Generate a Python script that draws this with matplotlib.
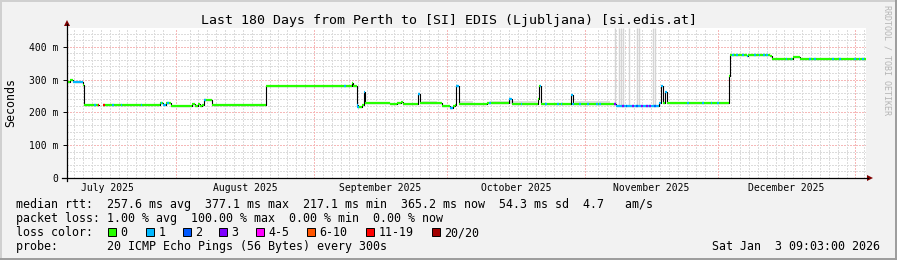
import datetime as dt
import numpy as np
import matplotlib
matplotlib.use('Agg')
import matplotlib.pyplot as plt
from matplotlib.lines import Line2D
from matplotlib.patches import Polygon, Rectangle

plt.rcParams['font.family'] = ['DejaVu Sans Mono']

W, H = 897, 260
start = dt.datetime(2025, 7, 7, 9, 3)
span_days = 180

# median rtt as steps: day since start, ms, loss class
med_day = [0.0, 0.7, 1.4, 3.6, 3.9, 7.3, 8.2, 21.0, 21.6, 22.3, 23.0, 23.4, 28.2, 28.8,
           29.5, 30.0, 30.4, 30.9, 32.6, 44.8, 64.2, 64.5, 65.3, 65.6, 66.5, 67.0, 67.2,
           72.8, 74.3, 75.2, 75.7, 79.1, 79.5, 84.4, 86.3, 87.0, 87.4, 87.6, 88.2, 94.6,
           99.6, 100.2, 106.1, 106.4, 106.8, 113.5, 114.0, 123.2, 123.7, 133.4, 133.8,
           134.3, 134.7, 135.2, 149.2, 149.4, 153.2, 153.4, 158.4, 158.8, 163.6, 165.1]
med_ms = [292, 299, 292, 283, 222, np.nan, 222, 229, 223, 227, 229, 219, 224, 219,
          225, 220, 223, 237, 222, 280, 289, 281, 221, 216, 222, 262, 228,
          226, 228, 232, 225, 255, 228, 220, 214, 220, 222, 279, 226, 229,
          242, 226, 240, 280, 226, 254, 226, 224, 219, 228, 280,
          228, 262, 228, 312, 376, 372, 376, 371, 364, 368, 364]
med_cls = [0, 0, 1, 0, 0, 0, 0, 0, 1, 0, 0, 0, 0, 0,
           0, 0, 0, 0, 0, 0, 0, 0, 1, 0, 0, 1, 0,
           0, 0, 0, 0, 1, 0, 0, 1, 0, 0, 1, 0, 0,
           1, 0, 0, 0, 0, 1, 0, 3, 1, 1, 1,
           0, 1, 0, 0, 0, 1, 0, 0, 0, 0, 0]

# short loss-colour specks on the median line
speck_day = [6.3, 7.1, 8.3, 10.4, 12.3, 16.8, 21.3, 22.8, 31.1, 62.6, 65.6, 79.3, 86.5,
             87.8, 95.3, 99.8, 102.4, 106.7, 107.9, 110.6, 111.4, 114.0, 115.6, 117.4,
             119.4, 120.1, 123.5, 125.3, 126.0, 127.5, 128.4, 129.5, 130.7, 131.3,
             132.5, 139.9, 143.3, 145.2, 146.6, 150.0, 151.0, 152.3, 155.0, 156.0,
             157.0, 157.7, 162.1, 163.2, 167.4, 168.5, 172.6, 174.1, 177.5, 178.5, 179.3]
speck_cls = [1, 6, 6, 1, 1, 1, 1, 1, 1, 1, 1, 1, 1,
             1, 1, 1, 1, 1, 1, 1, 1, 1, 1, 1,
             1, 1, 3, 3, 2, 3, 2, 3, 3, 3,
             2, 1, 1, 1, 1, 1, 1, 1, 1, 1,
             1, 1, 1, 1, 1, 1, 1, 1, 1, 1, 1]

# smoke
smoke_bar_day = [123.5, 124.4, 124.8, 125.3, 126.7, 128.5, 128.8, 132.1, 132.5]
smoke_from = [79.9, 88.5, 95.3, 114.4]
smoke_to = [83.3, 91.5, 105.9, 122.3]
smoke_top = [236, 236, 235, 234]

loss_labels = ['0', '1', '2', '3', '4-5', '6-10', '11-19', '20/20']
loss_colors = ['#26ff00', '#00b8ff', '#0059ff', '#7e00ff', '#ff00ff', '#ff5500', '#ff0000', '#a10000']
loss_box_px = [108, 146, 183, 219, 256, 307, 366, 432]

title = 'Last 180 Days from Perth to [SI] EDIS (Ljubljana) [si.edis.at]'
legend_rows = [
    'median rtt:  257.6 ms avg  377.1 ms max  217.1 ms min  365.2 ms now  54.3 ms sd  4.7   am/s',
    'packet loss: 1.00 % avg  100.00 % max  0.00 % min  0.00 % now',
    'loss color:',
    'probe:       20 ICMP Echo Pings (56 Bytes) every 300s',
]
stamp = 'Sat Jan  3 09:03:00 2026'


def fx(px):
    return px / W


def fy(py):
    return 1 - py / H


def day_of(d):
    return (d - start).total_seconds() / 86400


fig = plt.figure(figsize=(W / 100, H / 100), dpi=100, facecolor='#f2f2f2')
ax = fig.add_axes([fx(67), fy(178), 799 / W, 150 / H])
ax.set_facecolor('white')
ax.set_xlim(0, span_days)
ax.set_ylim(0, 457)
for s in ax.spines.values():
    s.set_visible(False)

# grid (dotted, crisp pixels)
dot = (0, (1.4, 1.4))
minor_c, major_c = '#dcdcdc', '#f6b8b8'
for v in range(20, 457, 20):
    if v % 100:
        ax.axhline(v, color=minor_c, lw=0.72, ls=dot, zorder=1, antialiased=False)
for v in range(100, 457, 100):
    ax.axhline(v, color=major_c, lw=0.72, ls=dot, zorder=1, antialiased=False)
month_starts = [dt.datetime(2025, m, 1) for m in range(7, 13)] + [dt.datetime(2026, 1, 1), dt.datetime(2026, 2, 1)]
major_days = [day_of(m) for m in month_starts if 0 < day_of(m) < span_days]
d = dt.datetime(2025, 7, 9)
while day_of(d) < span_days:
    x = day_of(d)
    if min(abs(x - m) for m in major_days) > 1.1:
        ax.axvline(x, color=minor_c, lw=0.72, ls=dot, zorder=1, antialiased=False)
    d += dt.timedelta(days=2)
for x in major_days:
    ax.axvline(x, color=major_c, lw=0.72, ls=dot, zorder=1, antialiased=False)

# smoke
for a, b, t in zip(smoke_from, smoke_to, smoke_top):
    ax.fill_between([a, b], 226, t, color='#e0e0e0', lw=0, zorder=2)

day_arr = np.array(med_day + [span_days])
ms_arr = np.array(med_ms + [med_ms[-1]], dtype=float)


def med_at(x):
    i = np.searchsorted(day_arr, x, side='right') - 1
    return ms_arr[max(i, 0)]


for x in smoke_bar_day:
    ax.vlines(x, med_at(x), 457, color='#d4d4d4', lw=1.0, zorder=2)

# median line
ax.step(day_arr, ms_arr, where='post', color='black', lw=0.8, zorder=3)
for i in range(len(med_day)):
    if np.isnan(ms_arr[i]):
        continue
    ax.hlines(ms_arr[i], day_arr[i], day_arr[i + 1], color=loss_colors[med_cls[i]],
              lw=1.6, zorder=4, capstyle='butt')
for x, c in zip(speck_day, speck_cls):
    ax.hlines(med_at(x), x - 0.18, x + 0.18, color=loss_colors[c], lw=1.6, zorder=5)

# ticks
ax.set_yticks([0, 100, 200, 300, 400], ['0', '100 m', '200 m', '300 m', '400 m'])
ax.tick_params(axis='y', length=3, width=0.7, pad=3, labelsize=7)
mids, mlabels = [], []
for a, b in zip(month_starts[:-1], month_starts[1:]):
    mid = a + (b - a) / 2
    if 0 < day_of(mid) < span_days:
        mids.append(day_of(mid))
        mlabels.append(a.strftime('%B %Y'))
ax.set_xticks(mids, mlabels)
ax.tick_params(axis='x', length=0, pad=3.5, labelsize=7)

# axes with arrows
fig.add_artist(Line2D([fx(62), fx(868)], [fy(178), fy(178)], color='black', lw=0.9))
fig.add_artist(Line2D([fx(67), fx(67)], [fy(181), fy(24)], color='black', lw=0.9))
fig.add_artist(Polygon([[fx(867), fy(175)], [fx(867), fy(181)], [fx(873), fy(178)]],
                       closed=True, color='#7f0000', lw=0))
fig.add_artist(Polygon([[fx(64), fy(26)], [fx(70), fy(26)], [fx(67), fy(20)]],
                       closed=True, color='#7f0000', lw=0))

# texts
fig.text(0.5, fy(24), title, ha='center', va='baseline', fontsize=9.5)
fig.text(fx(11), fy(103), 'Seconds', rotation=90, ha='center', va='center', fontsize=8.4)
fig.text(fx(887), fy(5), 'RRDTOOL / TOBI OETIKER', rotation=270, ha='center', va='top',
         fontsize=6, color='#b5b5b5')
for k, row in enumerate(legend_rows):
    fig.text(fx(16), fy(208 + 14 * k), row, ha='left', va='baseline', fontsize=8.4)
fig.text(fx(880), fy(250), stamp, ha='right', va='baseline', fontsize=8.4)
for px, lab, col in zip(loss_box_px, loss_labels, loss_colors):
    fig.add_artist(Rectangle((fx(px), fy(236)), 8 / W, 8 / H, facecolor=col,
                             edgecolor='black', lw=0.7))
    fig.text(fx(px + 12.5), fy(236), lab, ha='left', va='baseline', fontsize=8.4)

# frame
fig.add_artist(Line2D([0, 1], [fy(0.5), fy(0.5)], color='#d0d0d0', lw=1.4))
fig.add_artist(Line2D([fx(0.5), fx(0.5)], [0, 1], color='#d0d0d0', lw=1.4))
fig.add_artist(Line2D([0, 1], [fy(259), fy(259)], color='#9c9c9c', lw=1.4))
fig.add_artist(Line2D([fx(896), fx(896)], [0, 1], color='#9c9c9c', lw=1.4))

fig.savefig('out.png', dpi=100, facecolor=fig.get_facecolor())
